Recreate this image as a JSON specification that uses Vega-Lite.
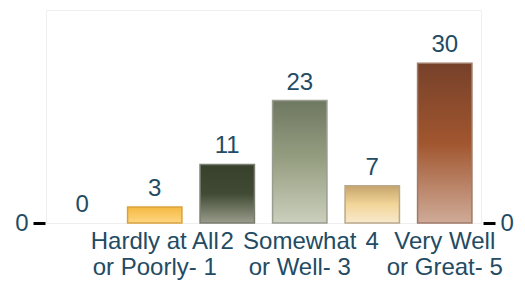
{
  "$schema": "https://vega.github.io/schema/vega-lite/v6.json",
  "width": 435,
  "height": 213,
  "autosize": "none",
  "padding": {"left": 46, "top": 10, "right": 44, "bottom": 60},
  "background": "white",
  "config": {"view": {"stroke": "#efefef", "strokeWidth": 1}, "font": "Liberation Sans"},
  "data": {"values": [
    {"category": " ", "count": 0},
    {"category": "Hardly at All|or Poorly- 1", "count": 3},
    {"category": "2", "count": 11},
    {"category": "Somewhat|or Well- 3", "count": 23},
    {"category": "4", "count": 7},
    {"category": "Very Well|or Great- 5", "count": 30}
  ]},
  "encoding": {
    "x": {
      "field": "category", "type": "nominal",
      "scale": {"domain": [" ", "Hardly at All|or Poorly- 1", "2", "Somewhat|or Well- 3", "4", "Very Well|or Great- 5"], "paddingInner": 0.25, "paddingOuter": 0.125},
      "axis": {"title": null, "labelAngle": 0, "ticks": false, "domain": false, "labelExpr": "split(datum.label, '|')", "labelFontSize": 24, "labelLineHeight": 26, "labelColor": "#234b63", "labelPadding": 6, "labelOverlap": false, "labelBound": false, "grid": false}
    },
    "y": {
      "field": "count", "type": "quantitative",
      "scale": {"domain": [0, 40]},
      "axis": null
    }
  },
  "layer": [
    {
      "transform": [{"filter": "datum.count == 3"}],
      "mark": {"type": "bar", "strokeWidth": 1.5, "stroke": "#d9a240", "color": {"gradient": "linear", "x1": 0, "y1": 0, "x2": 0, "y2": 1, "stops": [{"offset": 0, "color": "#f5b942"}, {"offset": 1, "color": "#fed681"}]}},
      "encoding": {
        "y": {
          "field": "count", "type": "quantitative",
          "scale": {"domain": [0, 40]},
          "axis": {"orient": "left", "values": [0], "title": null, "grid": false, "domain": false, "tickSize": 12, "tickWidth": 3, "tickColor": "#000000", "offset": 1, "labelFontSize": 24, "labelColor": "#234b63", "labelPadding": 5}
        }
      }
    },
    {
      "transform": [{"filter": "datum.count == 11"}],
      "mark": {"type": "bar", "strokeWidth": 1.5, "stroke": "#7a7c70", "color": {"gradient": "linear", "x1": 0, "y1": 0, "x2": 0, "y2": 1, "stops": [{"offset": 0, "color": "#36402b"}, {"offset": 0.5, "color": "#404a34"}, {"offset": 1, "color": "#9a9c8b"}]}}
    },
    {
      "transform": [{"filter": "datum.count == 23"}],
      "mark": {"type": "bar", "strokeWidth": 1.5, "stroke": "#9a9c90", "color": {"gradient": "linear", "x1": 0, "y1": 0, "x2": 0, "y2": 1, "stops": [{"offset": 0, "color": "#6e7760"}, {"offset": 0.5, "color": "#98a083"}, {"offset": 1, "color": "#cbcfbd"}]}}
    },
    {
      "transform": [{"filter": "datum.count == 7"}],
      "mark": {"type": "bar", "strokeWidth": 1.5, "stroke": "#bba88a", "color": {"gradient": "linear", "x1": 0, "y1": 0, "x2": 0, "y2": 1, "stops": [{"offset": 0, "color": "#c5a46c"}, {"offset": 0.5, "color": "#f2d598"}, {"offset": 1, "color": "#f8e9cc"}]}}
    },
    {
      "transform": [{"filter": "datum.count == 30"}],
      "mark": {"type": "bar", "strokeWidth": 1.5, "stroke": "#a07a68", "color": {"gradient": "linear", "x1": 0, "y1": 0, "x2": 0, "y2": 1, "stops": [{"offset": 0, "color": "#76412a"}, {"offset": 0.5, "color": "#a1562f"}, {"offset": 1, "color": "#cfab98"}]}}
    },
    {
      "mark": {"type": "text", "baseline": "bottom", "dy": -6, "fontSize": 24, "color": "#234b63"},
      "encoding": {
        "text": {"field": "count", "type": "quantitative"},
        "y": {
          "field": "count", "type": "quantitative",
          "scale": {"domain": [0, 40]},
          "axis": {"orient": "right", "values": [0], "title": null, "grid": false, "domain": false, "tickSize": 12, "tickWidth": 3, "tickColor": "#000000", "offset": 2, "labelFontSize": 24, "labelColor": "#234b63", "labelPadding": 5}
        }
      }
    }
  ],
  "resolve": {"axis": {"y": "independent"}}
}
